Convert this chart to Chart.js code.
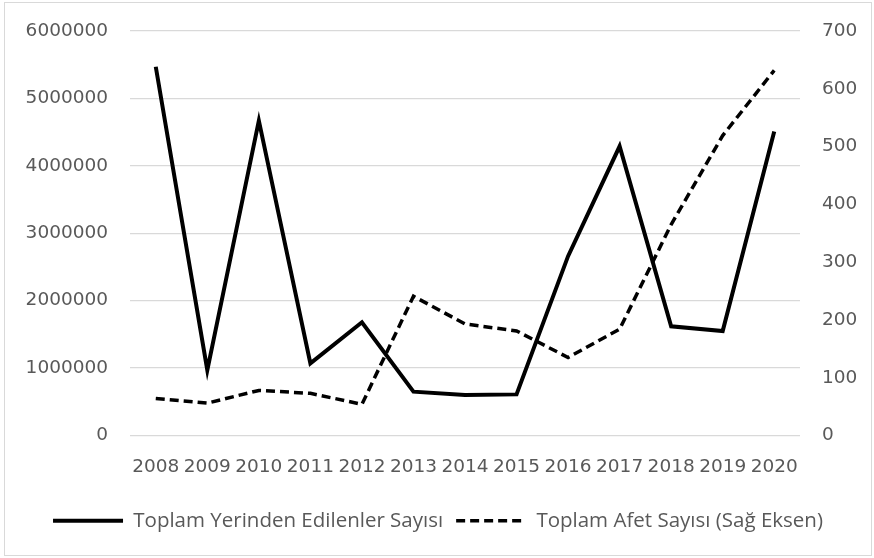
<!DOCTYPE html>
<html lang="tr">
<head>
    <meta charset="utf-8">
    <title>Yerinden Edilenler ve Afet Sayısı</title>
    <script src="https://cdn.jsdelivr.net/npm/chart.js"></script>
    <style>
        body {
            margin: 0;
            background: #fff;
        }

        .frame {
            position: absolute;
            left: 4px;
            top: 2px;
            width: 866px;
            height: 552px;
            border: 1px solid #d9d9d9;
        }
    </style>
</head>
<body>
<div class="frame">
    <canvas id="chart"></canvas>
</div>

<script>
    // Years on the x axis
    const years = ['2008', '2009', '2010', '2011', '2012', '2013', '2014',
        '2015', '2016', '2017', '2018', '2019', '2020'];

    // Toplam Yerinden Edilenler Sayısı (left axis)
    const displaced = [5470000, 970000, 4670000, 1070000, 1680000, 650000, 600000,
        610000, 2660000, 4290000, 1620000, 1550000, 4510000];

    // Toplam Afet Sayısı (right axis)
    const disasters = [64, 56, 78, 73, 54, 241, 193, 181, 135, 184, 365, 519, 632];

    const leftTicks = [0, 1000000, 2000000, 3000000, 4000000, 5000000, 6000000];
    const rightTicks = [0, 100, 200, 300, 400, 500, 600, 700];

    const tickFont = {family: 'DejaVu Sans', size: 18.5};
    const gray = '#595959';

    // y axes: drop the extra top/bottom padding chart.js adds for labels
    function fixAxis(width) {
        return axis => {
            axis.width = width;
            axis.paddingTop = 0;
            axis.paddingBottom = 0;
        };
    }

    new Chart(document.getElementById('chart'), {
        type: 'line',
        data: {
            labels: years,
            datasets: [{
                label: 'Toplam Yerinden Edilenler Sayısı',
                data: displaced,
                yAxisID: 'y',
                borderColor: '#000',
                backgroundColor: '#000',
                borderWidth: 4,
                pointRadius: 0,
                tension: 0
            }, {
                label: 'Toplam Afet Sayısı (Sağ Eksen)',
                data: disasters,
                yAxisID: 'y1',
                borderColor: '#000',
                backgroundColor: '#000',
                borderWidth: 3.5,
                borderDash: [9, 5],
                pointRadius: 0,
                tension: 0
            }]
        },
        options: {
            responsive: true,
            maintainAspectRatio: false,
            animation: false,
            layout: {
                padding: {top: 28, bottom: 14, left: 0, right: 0}
            },
            plugins: {
                tooltip: {enabled: false},
                legend: {
                    position: 'bottom',
                    labels: {
                        usePointStyle: true,
                        pointStyle: 'line',
                        pointStyleWidth: 70,
                        color: gray,
                        padding: 13,
                        font: {family: 'Open Sans', size: 20.5},
                        generateLabels: chart => {
                            const items = Chart.defaults.plugins.legend.labels.generateLabels(chart);
                            items.forEach(item => {
                                const ds = chart.data.datasets[item.datasetIndex];
                                item.lineDash = ds.borderDash || [];
                                item.lineWidth = ds.borderWidth;
                                item.strokeStyle = ds.borderColor;
                            });
                            return items;
                        }
                    }
                }
            },
            scales: {
                x: {
                    offset: true,
                    grid: {display: false, drawTicks: false},
                    border: {display: false},
                    ticks: {color: gray, font: tickFont, padding: 21, maxRotation: 0, autoSkip: false},
                    afterFit: axis => { axis.height = 62; }
                },
                y: {
                    position: 'left',
                    min: 0,
                    max: 6000000,
                    afterBuildTicks: axis => { axis.ticks = leftTicks.map(v => ({value: v})); },
                    grid: {color: '#d9d9d9', lineWidth: 1.3, drawTicks: false},
                    border: {display: false},
                    ticks: {color: gray, font: tickFont, padding: 22, callback: v => String(v)},
                    afterFit: fixAxis(125)
                },
                y1: {
                    position: 'right',
                    min: 0,
                    max: 700,
                    afterBuildTicks: axis => { axis.ticks = rightTicks.map(v => ({value: v})); },
                    grid: {drawOnChartArea: false, drawTicks: false},
                    border: {display: false},
                    ticks: {color: gray, font: tickFont, padding: 22},
                    afterFit: fixAxis(71)
                }
            }
        }
    });
</script>
</body>
</html>
